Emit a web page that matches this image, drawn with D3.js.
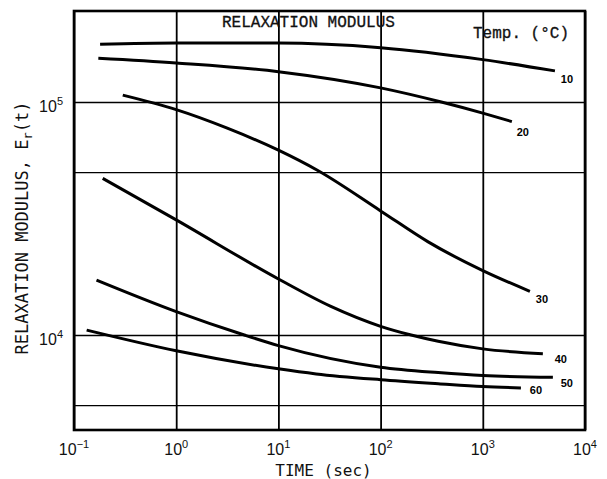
<!DOCTYPE html>
<html><head><meta charset="utf-8">
<script src="https://cdn.jsdelivr.net/npm/d3@7"></script>
<style>html,body{margin:0;padding:0;background:#fff}</style>
</head><body><svg id="c" width="607" height="479"></svg>
<script>
// ---- data ----
const temps = ["10", "20", "30", "40", "50", "60"];
const t10 = [0.18, 1, 10, 100, 1000, 5080];
const E10 = [1.77e5, 1.79e5, 1.79e5, 1.71e5, 1.52e5, 1.36e5];
const t20 = [0.173, 1, 10, 100, 393, 1000, 1925];
const E20 = [1.54e5, 1.47e5, 1.35e5, 1.15e5, 1.0e5, 8.96e4, 8.24e4];
const t30 = [0.30, 1, 3.16, 10, 24.3, 100, 292, 1000, 2890];
const E30 = [1.07e5, 9.27e4, 7.72e4, 6.21e4, 5.08e4, 3.41e4, 2.51e4, 1.89e4, 1.54e4];
const t40 = [0.191, 1, 10, 32.2, 100, 199, 366, 1000, 3870];
const E40 = [4.70e4, 3.12e4, 1.74e4, 1.33e4, 1.09e4, 1.0e4, 9.40e3, 8.72e3, 8.31e3];
const t50 = [0.166, 1, 4.64, 10, 100, 366, 1000, 4850];
const E50 = [1.72e4, 1.26e4, 1.0e4, 9.01e3, 7.28e3, 6.90e3, 6.70e3, 6.59e3];
const t60 = [0.133, 1, 10, 23.4, 100, 366, 1000, 2360];
const E60 = [1.05e4, 8.56e3, 7.16e3, 6.81e3, 6.43e3, 6.18e3, 6.01e3, 5.93e3];
const xTickExponents = [-1, 0, 1, 2, 3, 4];
const yGridValues = [5e3, 1e4, 5e4, 1e5];
const yLabelExponents = [4, 5];
const titleText = "RELAXATION MODULUS";
const legendTitle = "Temp. (\u00B0C)";
const xTitle = "TIME (sec)";

// ---- layout / style ----
const L = 74, R = 585, T = 11, B = 430;
const labelOffsets = [[12, 8], [11, 10], [12, 8], [18, 5], [14, 6], [15, 2]];

const svg = d3.select("#c");
const x = d3.scaleLog().domain([0.1, 1e4]).range([L, R]);
const y = d3.scaleLog().domain([3912, 245800]).range([B, T]);

// vertical grid
const xGrid = d3.axisBottom(x).tickValues(xTickExponents.map(e => Math.pow(10, e)))
  .tickSizeInner(-(B - T)).tickSizeOuter(0).tickFormat("");
const gx = svg.append("g").attr("transform", `translate(0,${B})`).call(xGrid);
gx.select(".domain").remove();
gx.selectAll("line").attr("stroke", "#000").attr("stroke-width", 1.8);

// horizontal grid
const yGrid = d3.axisLeft(y).tickValues(yGridValues)
  .tickSizeInner(-(R - L)).tickSizeOuter(0).tickFormat("");
const gy = svg.append("g").attr("transform", `translate(${L},0)`).call(yGrid);
gy.select(".domain").remove();
gy.selectAll("line").attr("stroke", "#000").attr("stroke-width", 1.4);

// frame
svg.append("rect").attr("x", L).attr("y", T).attr("width", R - L).attr("height", B - T)
  .attr("fill", "none").attr("stroke", "#000").attr("stroke-width", 2.6);

// curves
const series = [[t10, E10], [t20, E20], [t30, E30], [t40, E40], [t50, E50], [t60, E60]];
const line = d3.line().x(d => x(d[0])).y(d => y(d[1])).curve(d3.curveMonotoneX);
series.forEach((s, i) => {
  const pts = s[0].map((t, j) => [t, s[1][j]]);
  svg.append("path").attr("d", line(pts)).attr("fill", "none")
    .attr("stroke", "#000").attr("stroke-width", 3);
  const last = pts[pts.length - 1];
  svg.append("text").attr("x", x(last[0]) + labelOffsets[i][0]).attr("y", y(last[1]) + labelOffsets[i][1] + 4)
    .attr("text-anchor", "middle").attr("font-family", "Liberation Sans").attr("font-weight", "bold")
    .attr("font-size", 11).attr("fill", "#000").text(temps[i]);
});

// x tick labels
xTickExponents.forEach(e => {
  const tx = svg.append("text").attr("x", x(Math.pow(10, e))).attr("y", 455)
    .attr("text-anchor", "middle").attr("font-family", "Liberation Sans").attr("font-size", 16).attr("fill", "#111");
  tx.append("tspan").text("10");
  tx.append("tspan").attr("font-size", 11).attr("dy", -7).text(String(e).replace("-", "\u2212"));
});
// y tick labels
yLabelExponents.forEach(e => {
  const ty = svg.append("text").attr("x", L - 11).attr("y", y(Math.pow(10, e)) + 10)
    .attr("text-anchor", "end").attr("font-family", "Liberation Sans").attr("font-size", 16).attr("fill", "#111");
  ty.append("tspan").text("10");
  ty.append("tspan").attr("font-size", 11).attr("dy", -7).text(e);
});

// titles
svg.append("text").attr("x", 222).attr("y", 27).attr("font-family", "Liberation Mono")
  .attr("font-size", 16).attr("fill", "#111").attr("stroke", "#111").attr("stroke-width", 0.3).text(titleText);
svg.append("text").attr("x", 473).attr("y", 38).attr("font-family", "Liberation Mono")
  .attr("font-size", 16).attr("fill", "#111").attr("stroke", "#111").attr("stroke-width", 0.3).text(legendTitle);
svg.append("text").attr("x", (L + R) / 2 - 6).attr("y", 476).attr("text-anchor", "middle")
  .attr("font-family", "DejaVu Sans Mono").attr("font-size", 16).attr("fill", "#111").text(xTitle);
const yl = svg.append("text").attr("transform", "translate(28,228) rotate(-90)").attr("text-anchor", "middle")
  .attr("font-family", "DejaVu Sans Mono").attr("font-size", 17).attr("fill", "#111");
yl.append("tspan").text("RELAXATION MODULUS, E");
yl.append("tspan").attr("font-size", 12).attr("dy", 4).text("r");
yl.append("tspan").attr("dy", -4).text("(t)");
</script></body></html>
